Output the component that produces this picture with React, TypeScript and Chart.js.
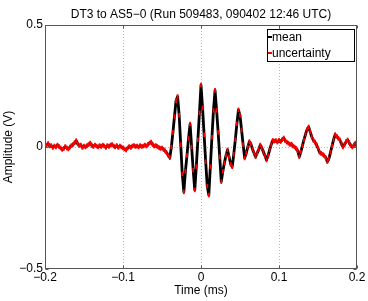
import React, { useEffect, useRef } from "react";
import { Chart, registerables } from "chart.js";

Chart.register(...registerables);

const titleText = "DT3 to AS5\u22120 (Run 509483, 090402 12:46 UTC)";
const xAxisTitle = "Time (ms)";
const yAxisTitle = "Amplitude (V)";
const seriesLabels = ["mean", "uncertainty"];

const xTicks = [-0.2, -0.1, 0, 0.1, 0.2];
const yTicks = [-0.5, 0, 0.5];

// sampling grid of the recorded trace (ms)
const startMs = -0.2;
const sampleStepMs = 0.002;

// mean amplitude (V), one value per sample
const meanV = [
  0.002, 0.008, 0.014, 0.004, 0.006, -0.002, 0.004, 0.0, 0.008, 0.002,
  -0.004, -0.01, -0.006, 0.002, -0.004, -0.008, 0.0, 0.006, 0.01, 0.018,
  0.026, 0.012, 0.006, 0.008, -0.002, 0.004, 0.0, 0.006, 0.01, 0.016,
  0.006, 0.002, 0.008, 0.004, 0.0, 0.006, 0.002, 0.008, 0.004, -0.002,
  0.006, 0.002, 0.008, 0.01, 0.004, 0.0, 0.006, -0.002, 0.004, 0.0,
  -0.004, -0.008, -0.012, -0.004, 0.002, -0.002, 0.004, 0.006, 0.002, 0.004,
  0.0, 0.006, 0.002, 0.004, 0.008, 0.004, 0.01, 0.016, 0.02, 0.01,
  0.004, 0.006, 0.002, -0.002, -0.006, -0.004, -0.01, -0.016, -0.024, -0.034,
  -0.044, 0.0, 0.06, 0.125, 0.19, 0.207, 0.13, 0.01, -0.11, -0.184,
  -0.1, -0.035, 0.035, 0.094, 0.0, -0.095, -0.176, -0.08, 0.03, 0.14,
  0.254, 0.16, 0.05, -0.06, -0.16, -0.197, -0.08, 0.04, 0.15, 0.232,
  0.15, 0.06, -0.04, -0.142, -0.1, -0.065, -0.035, -0.012, -0.04, -0.07,
  -0.081, -0.03, 0.03, 0.095, 0.152, 0.13, 0.07, 0.01, -0.045, -0.025,
  0.0, 0.022, 0.012, -0.008, -0.025, -0.04, -0.025, -0.01, 0.008, -0.004,
  -0.02, -0.036, -0.053, -0.035, -0.012, 0.01, 0.027, 0.024, 0.026, 0.02,
  0.028, 0.022, 0.03, 0.037, 0.026, 0.02, 0.016, 0.01, 0.012, 0.004,
  0.0, -0.006, -0.016, -0.04, -0.02, 0.005, 0.03, 0.052, 0.072, 0.082,
  0.062, 0.042, 0.028, 0.02, 0.01, -0.005, -0.022, -0.026, -0.03, -0.036,
  -0.044, -0.06, -0.048, -0.022, 0.004, 0.03, 0.051, 0.044, 0.036, 0.029,
  0.014, 0.0, 0.01, 0.022, 0.029, 0.018, 0.006, 0.0, 0.008, 0.016,
  0.002,
];

// half-width of the uncertainty bar (V)
const uncertaintyV = 0.008;

const FONT = "'Liberation Sans', Arial, Helvetica, sans-serif";

const fmt = (v: number) => {
  if (Math.abs(v) < 1e-9) return "0";
  const s = String(Math.abs(v));
  return v < 0 ? "\u2212" + s : s;
};

const framePlugin = {
  id: "matlabFrame",
  beforeDatasetsDraw(chart: any) {
    const { ctx, chartArea: a, scales } = chart;
    ctx.save();
    ctx.strokeStyle = "#b8b8b8";
    ctx.lineWidth = 1;
    ctx.setLineDash([1, 2]);
    xTicks.slice(1, -1).forEach((v) => {
      const x = Math.round(scales.x.getPixelForValue(v)) + 0.5;
      ctx.beginPath();
      ctx.moveTo(x, a.top);
      ctx.lineTo(x, a.bottom);
      ctx.stroke();
    });
    yTicks.slice(1, -1).forEach((v) => {
      const y = Math.round(scales.y.getPixelForValue(v)) + 0.5;
      ctx.beginPath();
      ctx.moveTo(a.left, y);
      ctx.lineTo(a.right, y);
      ctx.stroke();
    });
    ctx.restore();
  },
  afterDatasetsDraw(chart: any) {
    const { ctx, chartArea: a, scales } = chart;
    ctx.save();
    ctx.setLineDash([]);
    ctx.strokeStyle = "#555";
    ctx.lineWidth = 1;
    const L = Math.round(a.left) + 0.5;
    const R = Math.round(a.right) - 0.5;
    const T = Math.round(a.top) + 0.5;
    const B = Math.round(a.bottom) - 0.5;
    ctx.strokeRect(L, T, R - L, B - T);
    const tl = 3;
    ctx.beginPath();
    xTicks.forEach((v) => {
      const x = Math.round(scales.x.getPixelForValue(v)) + 0.5;
      ctx.moveTo(x, B);
      ctx.lineTo(x, B - tl);
      ctx.moveTo(x, T);
      ctx.lineTo(x, T + tl);
    });
    yTicks.forEach((v) => {
      const y = Math.round(scales.y.getPixelForValue(v)) + 0.5;
      ctx.moveTo(L, y);
      ctx.lineTo(L + tl, y);
      ctx.moveTo(R, y);
      ctx.lineTo(R - tl, y);
    });
    ctx.stroke();

    // legend
    ctx.font = `12px ${FONT}`;
    const maxW = Math.max(...seriesLabels.map((s) => ctx.measureText(s).width));
    const boxR = Math.round(a.right) - 3;
    const boxW = Math.round(maxW + 28);
    const boxL = boxR - boxW;
    const boxT = Math.round(a.top) + 4;
    const boxH = 32;
    ctx.fillStyle = "#fff";
    ctx.fillRect(boxL, boxT, boxW, boxH);
    ctx.strokeStyle = "#000";
    ctx.lineWidth = 1;
    ctx.strokeRect(boxL + 0.5, boxT + 0.5, boxW, boxH);
    const colors = ["#000000", "#ff0000"];
    seriesLabels.forEach((s, i) => {
      const yy = boxT + 8 + i * 16;
      ctx.strokeStyle = colors[i];
      ctx.lineWidth = 2;
      ctx.beginPath();
      ctx.moveTo(boxL + 1, yy);
      ctx.lineTo(boxL + 5, yy);
      ctx.stroke();
      ctx.fillStyle = "#000";
      ctx.textBaseline = "middle";
      ctx.textAlign = "left";
      ctx.fillText(s, boxL + 5, yy + 0.5);
    });

    // title
    ctx.fillStyle = "#000";
    ctx.textAlign = "center";
    ctx.textBaseline = "alphabetic";
    ctx.fillText(titleText, (a.left + a.right) / 2, 17.5);
    ctx.restore();
  },
};

export default function App() {
  const ref = useRef<HTMLCanvasElement | null>(null);
  useEffect(() => {
    if (!ref.current) return;
    const timeMs = meanV.map((_, i) => startMs + i * sampleStepMs);
    const meanPts = timeMs.map((t, i) => ({ x: t, y: meanV[i] }));
    const barPts = timeMs.map((t, i) => ({ x: t, y: [meanV[i] - uncertaintyV, meanV[i] + uncertaintyV] }));
    const chart = new Chart(ref.current, {
      type: "line",
      data: {
        datasets: [
          {
            type: "bar",
            label: seriesLabels[1],
            data: barPts as any,
            backgroundColor: "#ff0000",
            borderWidth: 0,
            barThickness: 1.1,
            grouped: false,
            order: 0,
          } as any,
          {
            type: "line",
            label: seriesLabels[0],
            data: meanPts,
            borderColor: "#000",
            borderWidth: 2.8,
            borderJoinStyle: "round",
            borderCapStyle: "round",
            pointRadius: 0,
            tension: 0,
            order: 1,
          },
        ],
      },
      options: {
        responsive: false,
        animation: false,
        layout: { padding: { top: 25, right: 11, left: 0, bottom: 0 } },
        plugins: { legend: { display: false }, tooltip: { enabled: false }, title: { display: false } },
        scales: {
          x: {
            type: "linear",
            min: -0.2,
            max: 0.2,
            offset: false,
            afterBuildTicks: (s: any) => {
              s.ticks = xTicks.map((v) => ({ value: v }));
            },
            afterFit: (s: any) => {
              s.height = 32;
            },
            grid: { display: false, drawTicks: false, offset: false },
            border: { display: false },
            ticks: {
              padding: 1,
              maxRotation: 0,
              autoSkip: false,
              color: "#000",
              font: { family: FONT, size: 12 },
              callback: (v: any) => fmt(Number(v)),
            },
            title: {
              display: true,
              text: xAxisTitle,
              color: "#000",
              font: { family: FONT, size: 12 },
              padding: { top: 0, bottom: 3 },
            },
          },
          y: {
            type: "linear",
            min: -0.5,
            max: 0.5,
            afterBuildTicks: (s: any) => {
              s.ticks = yTicks.map((v) => ({ value: v }));
            },
            afterFit: (s: any) => {
              s.width = 45;
            },
            grid: { display: false, drawTicks: false },
            border: { display: false },
            ticks: {
              padding: 2,
              autoSkip: false,
              color: "#000",
              font: { family: FONT, size: 12 },
              callback: (v: any) => fmt(Number(v)),
            },
            title: {
              display: true,
              text: yAxisTitle,
              color: "#000",
              font: { family: FONT, size: 12 },
              padding: { top: 1.5, bottom: 0 },
            },
          },
        },
      },
      plugins: [framePlugin],
    });
    return () => chart.destroy();
  }, []);
  return (
    <div style={{ position: "absolute", left: 0, top: 0, width: 368, height: 301 }}>
      <canvas ref={ref} width={368} height={301} style={{ display: "block" }} />
    </div>
  );
}
